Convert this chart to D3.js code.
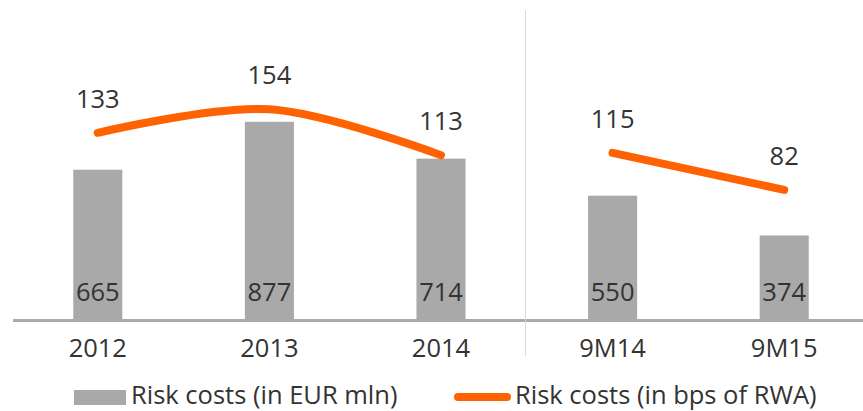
<!DOCTYPE html>
<html>
<head>
<meta charset="utf-8">
<script src="https://cdn.jsdelivr.net/npm/d3@7"></script>
<style>
  body { margin: 0; background: #fff; }
  svg { display: block; font-family: "Open Sans", sans-serif; }
</style>
</head>
<body>
<svg id="chart" width="863" height="411"></svg>
<script>
var categories = ["2012", "2013", "2014", "9M14", "9M15"];
var riskCostsEur = [665, 877, 714, 550, 374];
var riskCostsBps = [133, 154, 113, 115, 82];
var periods = ["FY", "FY", "FY", "9M", "9M"];
var legendLabels = ["Risk costs (in EUR mln)", "Risk costs (in bps of RWA)"];

var svg = d3.select("#chart");
var grey = "#a9a9a9", orange = "#ff6200", textCol = "#333333";
var fs = 25.5;

var x = d3.scaleBand().domain(categories).range([12, 870])
  .paddingInner(0.714).paddingOuter(0.357);
var yBar = d3.scaleLinear().domain([0, 1000]).range([320, 94]);
var yLine = d3.scaleLinear().domain([0, 250]).range([281.5, 2]);

var rows = categories.map(function(c, i) {
  return {cat: c, eur: riskCostsEur[i], bps: riskCostsBps[i], period: periods[i]};
});
function cx(d) { return x(d.cat) + x.bandwidth() / 2; }

// bars
svg.append("g").selectAll("rect").data(rows).enter().append("rect")
  .attr("x", function(d) { return x(d.cat); })
  .attr("y", function(d) { return yBar(d.eur); })
  .attr("width", x.bandwidth())
  .attr("height", function(d) { return yBar(0) - yBar(d.eur); })
  .attr("fill", grey);

// baseline
svg.append("line")
  .attr("x1", 13).attr("x2", 863)
  .attr("y1", yBar(0) + 0.5).attr("y2", yBar(0) + 0.5)
  .attr("stroke", grey).attr("stroke-width", 3);

// separator between full years and 9M
svg.append("line")
  .attr("x1", 525.5).attr("x2", 525.5).attr("y1", 10).attr("y2", 356)
  .attr("stroke", "#d9d9d9").attr("stroke-width", 1);

// bar value labels
svg.append("g").selectAll("text").data(rows).enter().append("text")
  .attr("x", cx)
  .attr("y", 301)
  .attr("text-anchor", "middle")
  .attr("font-size", fs).attr("fill", textCol)
  .text(function(d) { return d.eur; });

// category labels
svg.append("g").selectAll("text").data(rows).enter().append("text")
  .attr("x", cx)
  .attr("y", 357)
  .attr("text-anchor", "middle")
  .attr("font-size", fs).attr("fill", textCol)
  .text(function(d) { return d.cat; });

// bps lines, one per period
var line = d3.line()
  .x(cx)
  .y(function(d) { return yLine(d.bps); })
  .curve(d3.curveCatmullRom.alpha(0.5));

var groups = d3.groups(rows, function(d) { return d.period; });
svg.append("g").selectAll("path").data(groups).enter().append("path")
  .attr("d", function(g) { return line(g[1]); })
  .attr("fill", "none")
  .attr("stroke", orange)
  .attr("stroke-width", 8)
  .attr("stroke-linecap", "round");

svg.append("g").selectAll("text").data(rows).enter().append("text")
  .attr("x", cx)
  .attr("y", function(d) { return yLine(d.bps) - 25; })
  .attr("text-anchor", "middle")
  .attr("font-size", fs).attr("fill", textCol)
  .text(function(d) { return d.bps; });

// legend
var leg = svg.append("g");
leg.append("rect").attr("x", 74).attr("y", 390).attr("width", 52).attr("height", 15).attr("fill", grey);
leg.append("text").attr("x", 131).attr("y", 404)
  .attr("font-size", fs).attr("fill", textCol).text(legendLabels[0]);
leg.append("line").attr("x1", 458).attr("x2", 507).attr("y1", 397).attr("y2", 397)
  .attr("stroke", orange).attr("stroke-width", 8).attr("stroke-linecap", "round");
leg.append("text").attr("x", 515).attr("y", 404)
  .attr("font-size", fs).attr("fill", textCol).text(legendLabels[1]);
</script>
</body>
</html>
